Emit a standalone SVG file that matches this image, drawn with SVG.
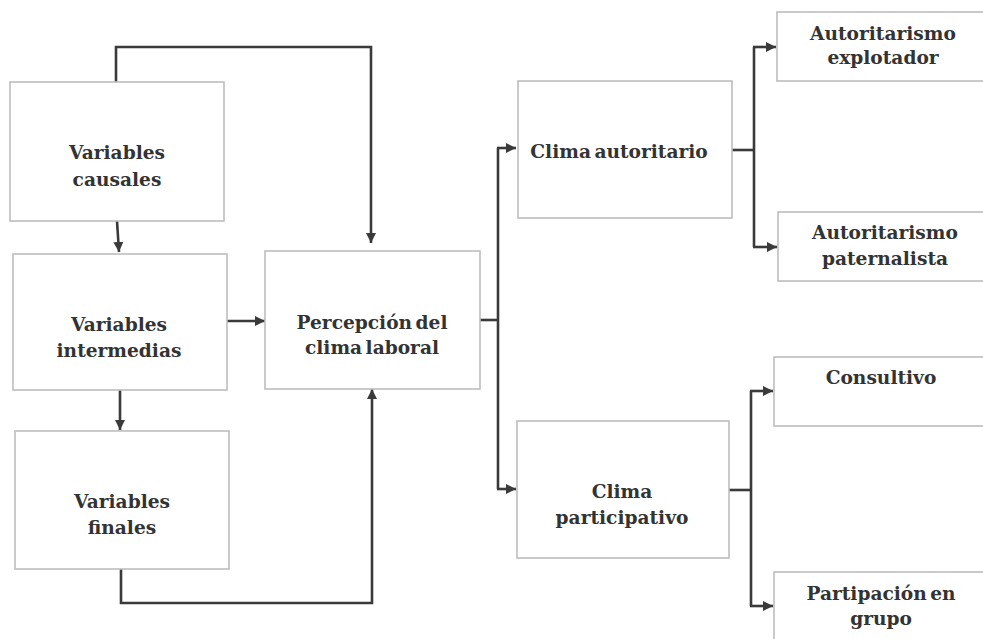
<svg xmlns="http://www.w3.org/2000/svg" width="983" height="639" viewBox="0 0 983 639">
  <defs>
    <marker id="arrow" viewBox="0 0 10 10" refX="10" refY="5" markerWidth="10" markerHeight="10" markerUnits="userSpaceOnUse" orient="auto">
      <path d="M0,0 L10,5 L0,10 z" fill="#3a3a3a"/>
    </marker>
    <style>
      .box { fill: #ffffff; stroke: #bdbdbd; stroke-width: 1.6; }
      .lbl { font-family: "DejaVu Serif", "Liberation Serif", serif; font-weight: bold; font-size: 18.6px; fill: #333333; text-anchor: middle; word-spacing: -3px; }
      .wire { fill: none; stroke: #3a3a3a; stroke-width: 2.6; stroke-linejoin: miter; }
    </style>
  </defs>
  <rect width="983" height="639" fill="#ffffff"/>

  <!-- connectors -->
  <g id="connectors">
    <path class="wire" d="M116,82 V47 H371 V243" marker-end="url(#arrow)"/>
    <path class="wire" d="M117,221 L119,252" marker-end="url(#arrow)"/>
    <path class="wire" d="M227,321 H265" marker-end="url(#arrow)"/>
    <path class="wire" d="M120,390 V430" marker-end="url(#arrow)"/>
    <path class="wire" d="M121,569 V603 H372 V389" marker-end="url(#arrow)"/>
    <path class="wire" d="M480,320 H498"/>
    <path class="wire" d="M498,148 V489"/>
    <path class="wire" d="M497,148 H516" marker-end="url(#arrow)"/>
    <path class="wire" d="M497,489 H516" marker-end="url(#arrow)"/>
    <path class="wire" d="M732,150 H754"/>
    <path class="wire" d="M754,47 V247"/>
    <path class="wire" d="M753,47 H776" marker-end="url(#arrow)"/>
    <path class="wire" d="M753,247 H777" marker-end="url(#arrow)"/>
    <path class="wire" d="M729,490 H751"/>
    <path class="wire" d="M751,391 V606"/>
    <path class="wire" d="M750,391 H773" marker-end="url(#arrow)"/>
    <path class="wire" d="M750,606 H773" marker-end="url(#arrow)"/>
  </g>

  <!-- nodes -->
  <g id="causales">
    <rect class="box" x="10" y="82" width="214" height="139"/>
    <text class="lbl" x="117" y="159">Variables</text>
    <text class="lbl" x="117" y="186">causales</text>
  </g>
  <g id="intermedias">
    <rect class="box" x="13" y="254" width="214" height="136"/>
    <text class="lbl" x="119" y="331">Variables</text>
    <text class="lbl" x="119" y="357">intermedias</text>
  </g>
  <g id="finales">
    <rect class="box" x="15" y="431" width="214" height="138"/>
    <text class="lbl" x="122" y="508">Variables</text>
    <text class="lbl" x="122" y="534">finales</text>
  </g>
  <g id="percepcion">
    <rect class="box" x="265" y="251" width="215" height="138"/>
    <text class="lbl" x="372" y="329">Percepción del</text>
    <text class="lbl" x="372" y="354">clima laboral</text>
  </g>
  <g id="clima-autoritario">
    <rect class="box" x="518" y="81" width="214" height="137"/>
    <text class="lbl" x="619" y="158">Clima autoritario</text>
  </g>
  <g id="clima-participativo">
    <rect class="box" x="517" y="421" width="212" height="137"/>
    <text class="lbl" x="622" y="498">Clima</text>
    <text class="lbl" x="622" y="524">participativo</text>
  </g>
  <g id="explotador">
    <rect class="box" x="777" y="12" width="215" height="69"/>
    <text class="lbl" x="883" y="40">Autoritarismo</text>
    <text class="lbl" x="883" y="64">explotador</text>
  </g>
  <g id="paternalista">
    <rect class="box" x="778" y="212" width="215" height="69"/>
    <text class="lbl" x="885" y="239">Autoritarismo</text>
    <text class="lbl" x="885" y="265">paternalista</text>
  </g>
  <g id="consultivo">
    <rect class="box" x="774" y="357" width="215" height="69"/>
    <text class="lbl" x="881" y="384">Consultivo</text>
  </g>
  <g id="grupo">
    <rect class="box" x="774" y="572" width="215" height="80"/>
    <text class="lbl" x="881" y="600">Partipación en</text>
    <text class="lbl" x="881" y="625">grupo</text>
  </g>
</svg>
